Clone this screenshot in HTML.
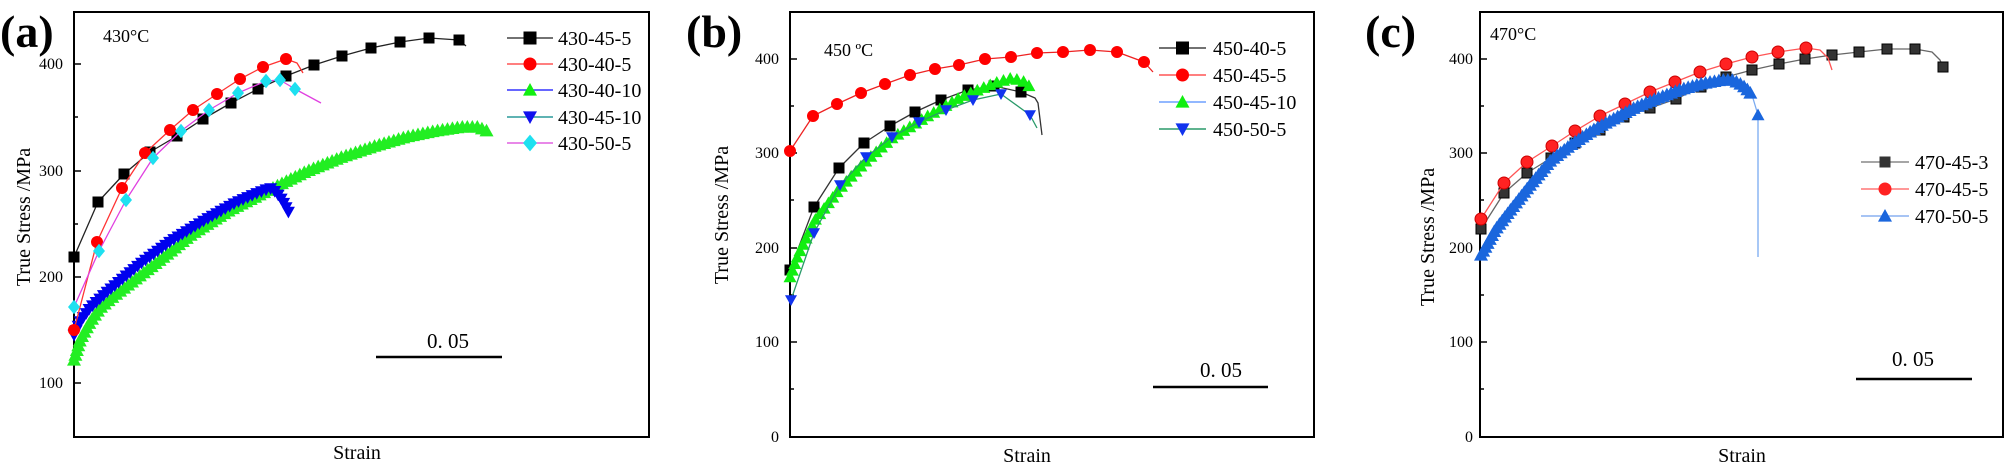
<!DOCTYPE html>
<html><head><meta charset="utf-8"><style>
html,body{margin:0;padding:0;background:#fff;}
svg{display:block;}
svg text{font-family:"Liberation Serif","DejaVu Serif",serif;}
</style></head><body>
<svg id="s" width="2007" height="464" viewBox="0 0 2007 464" xmlns="http://www.w3.org/2000/svg" font-family="Liberation Serif, serif">
<rect width="2007" height="464" fill="#fff"/>
<g fill="none" stroke="#000" stroke-width="2">
<rect x="74" y="12" width="575" height="425"/>
<rect x="790" y="12" width="524" height="425"/>
<rect x="1480" y="12" width="523" height="425"/>
</g>
<g stroke="#000" stroke-width="1.5" id="ticks"></g>
<g font-size="16" fill="#000" text-anchor="end">
<text x="63" y="69">400</text><text x="63" y="176">300</text><text x="63" y="282">200</text><text x="63" y="388">100</text>
<text x="779" y="64">400</text><text x="779" y="158">300</text><text x="779" y="253">200</text><text x="779" y="347">100</text><text x="779" y="442">0</text>
<text x="1473" y="64">400</text><text x="1473" y="158">300</text><text x="1473" y="253">200</text><text x="1473" y="347">100</text><text x="1473" y="442">0</text>
</g>
<g font-size="46" font-weight="bold" fill="#000">
<text x="0" y="47">(a)</text><text x="686" y="47">(b)</text><text x="1365" y="47">(c)</text>
</g>
<g font-size="18" fill="#000">
<text x="103" y="42">430°C</text><text x="824" y="56">450 ºC</text><text x="1490" y="40">470°C</text>
</g>
<g font-size="20" fill="#000" text-anchor="middle">
<text transform="translate(30,217) rotate(-90)">True Stress /MPa</text>
<text transform="translate(728,215) rotate(-90)">True Stress /MPa</text>
<text transform="translate(1434,237) rotate(-90)">True Stress /MPa</text>
<text x="357" y="459">Strain</text><text x="1027" y="462">Strain</text><text x="1742" y="462">Strain</text>
</g>
<g font-size="21" fill="#000">
<text x="427" y="348">0. 05</text><text x="1200" y="377">0. 05</text><text x="1892" y="366">0. 05</text>
</g>
<g stroke="#000" stroke-width="2.5">
<line x1="376" y1="357" x2="502" y2="357"/><line x1="1153" y1="387" x2="1268" y2="387"/><line x1="1856" y1="379" x2="1972" y2="379"/>
</g>
<g id="plot"></g>
<g font-size="20" fill="#000">
<text x="558" y="45">430-45-5</text><text x="558" y="71">430-40-5</text><text x="558" y="97">430-40-10</text><text x="558" y="124">430-45-10</text><text x="558" y="150">430-50-5</text>
<text x="1213" y="55">450-40-5</text><text x="1213" y="82">450-45-5</text><text x="1213" y="109">450-45-10</text><text x="1213" y="136">450-50-5</text>
<text x="1915" y="169">470-45-3</text><text x="1915" y="196">470-45-5</text><text x="1915" y="223">470-50-5</text>
</g>
</svg>
<script>
var NS="http://www.w3.org/2000/svg",P=document.getElementById('plot'),T=document.getElementById('ticks');
function el(t,a,p){var e=document.createElementNS(NS,t);for(var k in a)e.setAttribute(k,a[k]);(p||P).appendChild(e);return e;}
[[74,[64,171,277,383],[117,224,330]],[790,[59,153,248,342,437],[106,200,295,389]],[1480,[59,153,248,342,437],[106,200,295,389]]].forEach(function(a){
a[1].forEach(function(y){el('line',{x1:a[0],y1:y,x2:a[0]+7,y2:y},T)});a[2].forEach(function(y){el('line',{x1:a[0],y1:y,x2:a[0]+4,y2:y},T)});});
function mk(type,x,y,s,fill,stroke){
 stroke=stroke||fill;
 if(type=='sq')el('rect',{x:x-s,y:y-s,width:2*s,height:2*s,fill:fill,stroke:stroke,'stroke-width':1});
 else if(type=='ci')el('circle',{cx:x,cy:y,r:s,fill:fill,stroke:stroke,'stroke-width':1});
 else if(type=='tu')el('polygon',{points:(x)+','+(y-s)+' '+(x-s)+','+(y+s*0.8)+' '+(x+s)+','+(y+s*0.8),fill:fill});
 else if(type=='td')el('polygon',{points:(x)+','+(y+s)+' '+(x-s)+','+(y-s*0.8)+' '+(x+s)+','+(y-s*0.8),fill:fill});
 else if(type=='di')el('polygon',{points:x+','+(y-s*1.2)+' '+(x+s)+','+y+' '+x+','+(y+s*1.2)+' '+(x-s)+','+y,fill:fill});
}
function line(pts,c,w){el('polyline',{points:pts.map(function(p){return p.join(',')}).join(' '),fill:'none',stroke:c,'stroke-width':w||1.3,'stroke-linejoin':'round'});}
function series(pts,lc,type,mc,s,n,extra,stroke){line(pts.concat(extra||[]),lc);for(var i=0;i<(n||pts.length);i++)mk(type,pts[i][0],pts[i][1],s,mc,stroke);}
function dense(pts,lc,type,mc,s,sp,extra){line(pts.concat(extra||[]),lc);
 var acc=0;mk(type,pts[0][0],pts[0][1],s,mc);
 for(var i=1;i<pts.length;i++){var dx=pts[i][0]-pts[i-1][0],dy=pts[i][1]-pts[i-1][1],L=Math.hypot(dx,dy),t=sp-acc;
  while(t<=L){mk(type,pts[i-1][0]+dx*t/L,pts[i-1][1]+dy*t/L,s,mc);t+=sp;}acc=L-(t-sp);}}
// Panel a
dense([[74,360],[80,340],[90,322],[100,308],[115,295],[128,285],[160,260],[192,234],[230,210],[269,190],[305,172],[342,157],[375,146],[406,137],[435,131],[462,127],[478,127],[487,131]],'#00cc00','tu','#22ee22',7,5);
dense([[74,335],[80,322],[90,308],[107,292],[140,264],[171,241],[205,220],[235,203],[255,194],[270,188],[276,192],[282,200],[289,213]],'#00f','td','#0000ee',6.5,5);
series([[74,257],[98,202],[124,174],[150,152],[177,136],[203,119],[231,103],[258,89],[286,76],[314,65],[342,56],[371,48],[400,42],[429,38],[459,40]],'#222','sq','#000',5,0,[[466,46]]);
series([[74,330],[97,242],[122,188],[145,153],[170,130],[193,110],[217,94],[240,79],[263,67],[286,59]],'#f33','ci','#f00',5.5,0,[[297,63],[303,73]]);
series([[74,307],[99,251],[126,200],[153,158],[181,131],[209,110],[238,93],[266,81],[280,80],[295,89]],'#e040e0','di','#1ee0f0',6,0,[[321,103]]);
// Panel b
series([[790,151],[813,116],[837,104],[861,93],[885,84],[910,75],[935,69],[959,65],[985,59],[1011,57],[1037,53],[1063,52],[1090,50],[1117,52],[1144,62]],'#e22','ci','#f00',5.5,0,[[1153,72]]);
series([[790,270],[814,207],[839,168],[864,143],[890,126],[915,112],[941,100],[968,90],[994,86],[1021,92]],'#333','sq','#000',5,0,[[1035,98],[1038,103],[1042,135]]);
dense([[790,277],[798,255],[815,220],[841,187],[867,160],[892,138],[926,117],[961,97],[995,83],[1012,78],[1025,82],[1033,90]],'#6fa0ff','tu','#11ee11',6.5,7);
series([[791,300],[814,233],[840,185],[866,157],[892,137],[919,122],[946,110],[973,100],[1001,94],[1030,115]],'#2a9a6a','td','#1133ee',6,0,[[1037,128]]);
// Panel c
series([[1481,229],[1504,193],[1527,173],[1551,158],[1575,143],[1600,130],[1624,117],[1650,108],[1676,99],[1701,87],[1726,77],[1752,70],[1779,64],[1805,59],[1832,55],[1859,52],[1887,49],[1915,49]],'#666','sq','#333',5,0,[[1932,52],[1940,60],[1943,67]],'#000');
mk('sq',1943,67,5,'#333','#000');
series([[1481,219],[1504,183],[1527,162],[1552,146],[1575,131],[1600,116],[1625,104],[1650,92],[1675,82],[1700,72],[1726,64],[1752,57],[1778,52],[1806,48]],'#f55','ci','#f22',6,0,[[1820,50],[1828,58],[1832,70]],'#c00');
dense([[1481,255],[1495,230],[1508,213],[1530,185],[1551,160],[1572,144],[1593,130],[1615,118],[1636,107],[1658,98],[1679,90],[1700,84],[1722,80],[1732,80],[1739,83],[1746,88],[1752,95]],'#7aaaf0','tu','#1a66dd',7,4.5,[[1758,115],[1758,257]]);
mk('tu',1758,115,6.5,'#1a66dd');
function leg(x1,x2,y,lc,type,mc,s){el('line',{x1:x1,y1:y,x2:x2,y2:y,stroke:lc,'stroke-width':1.5});mk(type,(x1+x2)/2,y,s,mc);}
leg(507,553,38,'#444','sq','#000',6);leg(507,553,64,'#f55','ci','#f00',6);leg(507,553,90,'#33f','tu','#11ee11',7);leg(507,553,117,'#2a9a9a','td','#1111ee',7);leg(507,553,143,'#e060e0','di','#1ee0f0',7);
leg(1159,1206,48,'#444','sq','#000',6);leg(1159,1206,75,'#f55','ci','#f00',6);leg(1159,1206,102,'#6fa0ff','tu','#11ee11',7);leg(1159,1206,129,'#2a9a6a','td','#1133ee',7);
leg(1861,1909,162,'#888','sq','#333',5);leg(1861,1909,189,'#f77','ci','#f22',6);leg(1861,1909,216,'#8ab0f0','tu','#1a66dd',7);
</script>
</body></html>
